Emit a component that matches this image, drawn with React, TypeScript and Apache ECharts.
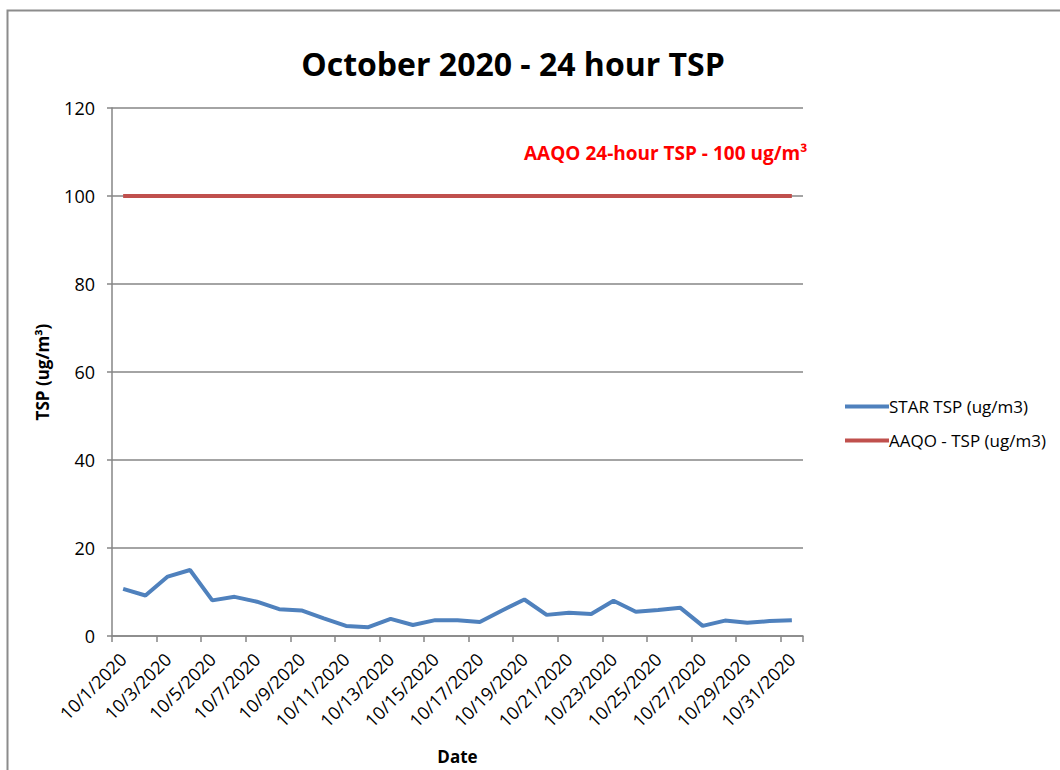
import React, { useEffect, useRef } from "react";
import * as echarts from "echarts";

const dates = Array.from({ length: 31 }, (_, i) => `10/${i + 1}/2020`);
const starTsp = [10.7, 9.2, 13.5, 15.0, 8.1, 8.9, 7.8, 6.1, 5.8, 4.0, 2.3, 2.0, 3.9, 2.5, 3.6, 3.6, 3.2, 5.8, 8.3, 4.8, 5.3, 5.0, 8.0, 5.5, 5.9, 6.4, 2.3, 3.5, 3.0, 3.4, 3.6];
const aaqoTsp = [100, 100, 100, 100, 100, 100, 100, 100, 100, 100, 100, 100, 100, 100, 100, 100, 100, 100, 100, 100, 100, 100, 100, 100, 100, 100, 100, 100, 100, 100, 100];
const yTicks = { min: 0, max: 120, interval: 20 };

const FONT = "'Open Sans', 'Noto Sans', sans-serif";

export default function App() {
  const ref = useRef<HTMLDivElement>(null);
  useEffect(() => {
    if (!ref.current) return;
    const chart = echarts.init(ref.current, null, { renderer: "svg" });
    chart.setOption({
      animation: false,
      backgroundColor: "#ffffff",
      textStyle: { fontFamily: FONT },
      title: {
        text: "October 2020 - 24 hour TSP",
        left: 508,
        textAlign: "center",
        top: 42,
        textStyle: { fontSize: 32, fontWeight: "bold", color: "#000", fontFamily: FONT },
      },
      graphic: [
        {
          type: "rect",
          shape: { x: 7.5, y: 10.5, width: 1100, height: 800 },
          style: { fill: "none", stroke: "#8c8c8c", lineWidth: 2 },
          silent: true,
          z: 0,
        },
        {
          type: "text",
          x: 524,
          y: 143,
          style: {
            text: "AAQO 24-hour TSP - 100 ug/m³",
            fill: "#ff0000",
            font: `bold 19px ${FONT}`,
          },
        },
      ],
      legend: {
        orient: "vertical",
        left: 840,
        top: 393,
        itemGap: 17,
        itemWidth: 44,
        itemHeight: 4,
        icon: "rect",
        textStyle: { fontSize: 17, color: "#000", fontFamily: FONT, padding: [0, 0, 0, -5] },
        data: ["STAR TSP (ug/m3)", "AAQO - TSP (ug/m3)"],
      },
      grid: { left: 112, right: 257, top: 108, bottom: 134 },
      xAxis: {
        type: "category",
        data: dates,
        boundaryGap: true,
        name: "Date",
        nameLocation: "middle",
        nameGap: 112,
        nameTextStyle: { fontSize: 17, fontWeight: "bold", color: "#000", fontFamily: FONT },
        axisLine: { lineStyle: { color: "#868686", width: 1.5 } },
        axisTick: { show: true, length: 6, lineStyle: { color: "#868686", width: 1.5 }, interval: 1 },
        axisLabel: { interval: 1, rotate: 45, fontSize: 18, color: "#000", margin: 20, fontFamily: FONT },
      },
      yAxis: {
        type: "value",
        min: yTicks.min,
        max: yTicks.max,
        interval: yTicks.interval,
        name: "TSP (ug/m³)",
        nameLocation: "middle",
        nameGap: 61,
        nameTextStyle: { fontSize: 17, fontWeight: "bold", color: "#000", fontFamily: FONT },
        axisLine: { show: true, lineStyle: { color: "#868686", width: 1.5 } },
        axisTick: { show: true, length: 5, lineStyle: { color: "#868686", width: 1.5 } },
        axisLabel: { fontSize: 18, color: "#000", margin: 17, fontFamily: FONT },
        splitLine: { lineStyle: { color: "#868686", width: 1.5 } },
      },
      series: [
        {
          name: "STAR TSP (ug/m3)",
          type: "line",
          data: starTsp,
          symbol: "none",
          color: "#4F81BD",
          lineStyle: { width: 4, color: "#4F81BD" },
          z: 3,
        },
        {
          name: "AAQO - TSP (ug/m3)",
          type: "line",
          data: aaqoTsp,
          symbol: "none",
          color: "#C0504D",
          lineStyle: { width: 4, color: "#C0504D" },
          z: 2,
        },
      ],
    });
    return () => chart.dispose();
  }, []);
  return (
    <div
      ref={ref}
      style={{ position: "absolute", left: 0, top: 0, width: 1060, height: 770 }}
    />
  );
}
